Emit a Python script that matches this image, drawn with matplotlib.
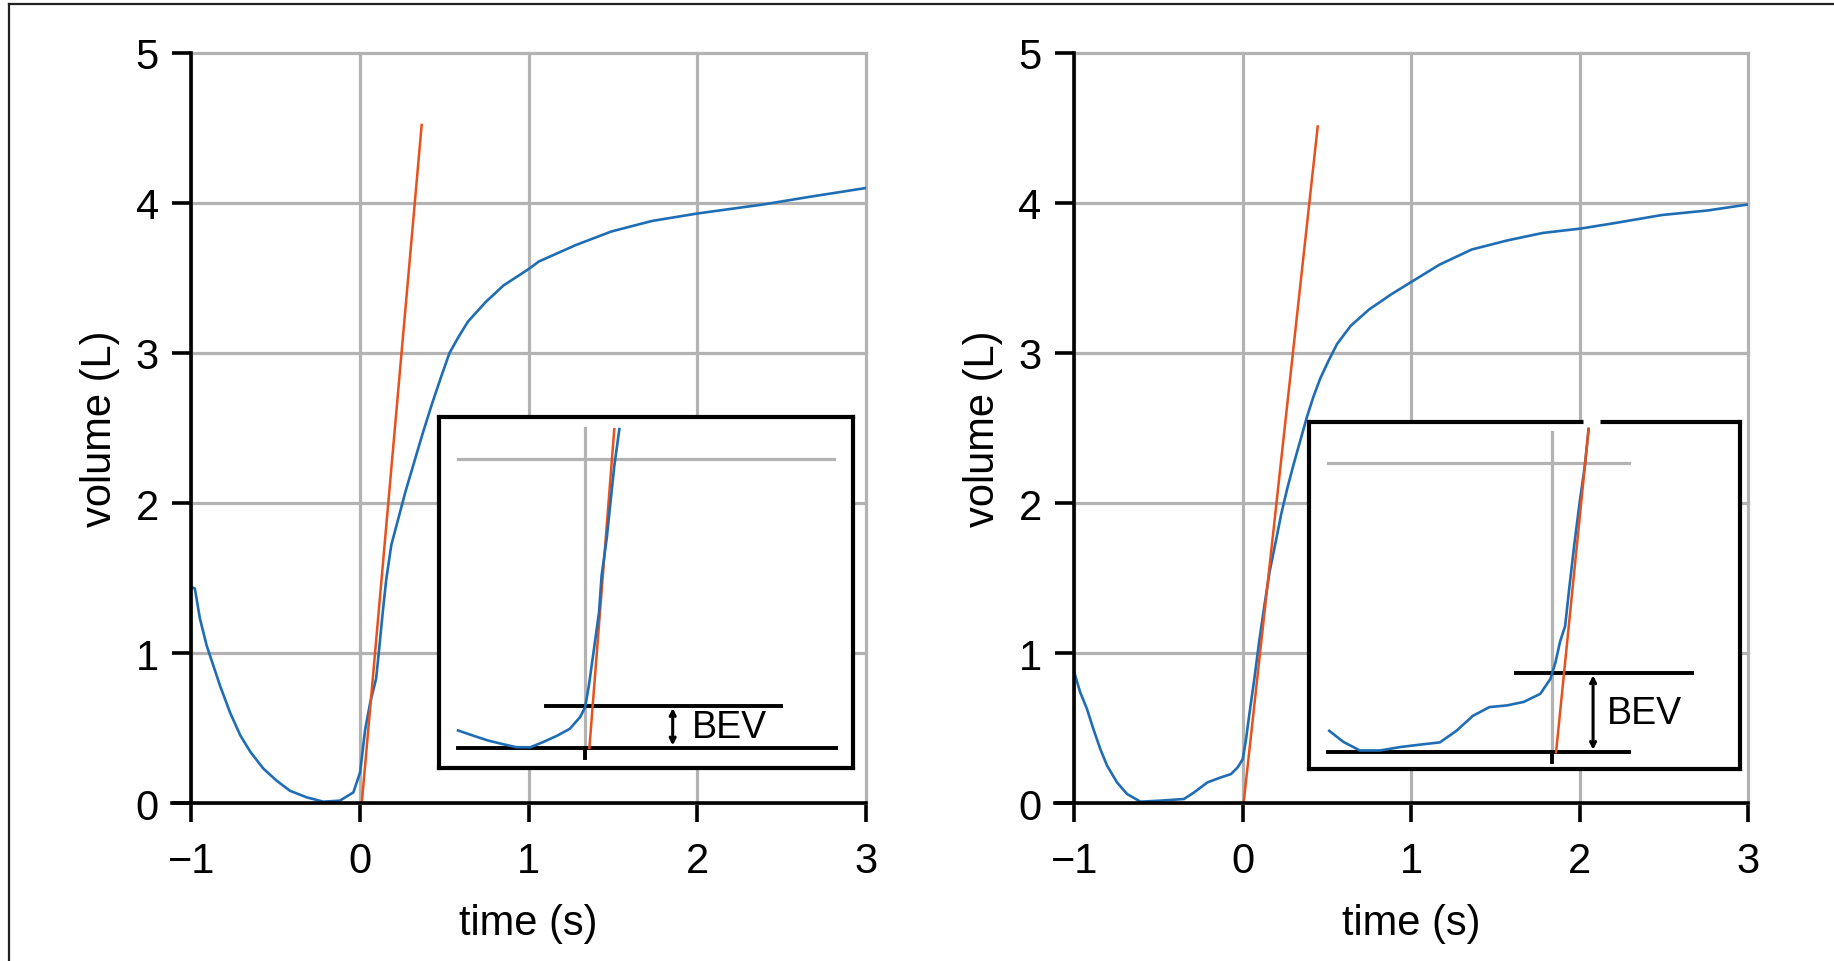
import numpy as np
import matplotlib.pyplot as plt
from matplotlib.lines import Line2D

plt.rcParams['font.family'] = ['Liberation Sans', 'DejaVu Sans']

# main traces (time in s, volume in L)
t_left = [-1.0, -0.98, -0.95, -0.91, -0.87, -0.83, -0.77, -0.71, -0.65, -0.574, -0.495,
          -0.416, -0.317, -0.218, -0.12, -0.04, 0.0, 0.03, 0.06, 0.095, 0.115, 0.135,
          0.155, 0.185, 0.237, 0.27, 0.32, 0.37, 0.426, 0.48, 0.53, 0.585, 0.64, 0.745,
          0.85, 1.0, 1.06, 1.28, 1.49, 1.73, 2.0, 2.39, 2.66, 3.0]
v_left = [1.44, 1.43, 1.23, 1.05, 0.915, 0.78, 0.60, 0.45, 0.34, 0.23, 0.149,
          0.082, 0.038, 0.009, 0.016, 0.071, 0.205, 0.49, 0.67, 0.83, 1.05, 1.28,
          1.49, 1.72, 1.94, 2.08, 2.27, 2.46, 2.66, 2.84, 3.0, 3.11, 3.21, 3.34,
          3.45, 3.56, 3.61, 3.72, 3.81, 3.88, 3.93, 3.99, 4.04, 4.10]
bev_left_t = [0.01, 0.365]
bev_left_v = [0.0, 4.52]

t_right = [-1.0, -0.966, -0.926, -0.886, -0.846, -0.806, -0.747, -0.687, -0.607, -0.488,
           -0.349, -0.289, -0.209, -0.13, -0.07, -0.03, 0.0, 0.02, 0.04, 0.069, 0.099,
           0.129, 0.159, 0.199, 0.229, 0.265, 0.30, 0.34, 0.38, 0.42, 0.46, 0.51, 0.56,
           0.64, 0.75, 0.88, 1.01, 1.17, 1.36, 1.57, 1.78, 2.01, 2.23, 2.49, 2.76, 3.0]
v_right = [0.87, 0.74, 0.63, 0.49, 0.36, 0.25, 0.138, 0.06, 0.009, 0.016,
           0.027, 0.071, 0.138, 0.171, 0.193, 0.238, 0.293, 0.43, 0.60, 0.83, 1.09,
           1.32, 1.54, 1.76, 1.93, 2.10, 2.25, 2.41, 2.57, 2.71, 2.83, 2.95, 3.06,
           3.18, 3.29, 3.39, 3.48, 3.59, 3.69, 3.75, 3.80, 3.83, 3.87, 3.92, 3.95, 3.99]
bev_right_t = [0.005, 0.445]
bev_right_v = [0.0, 4.51]

# zoomed insets (time in ms, volume in mL)
in_left_t = [-100, -88, -77, -66, -54, -43, -33, -22, -12, -4, 0, 3, 7, 11, 13, 17, 20, 23, 27]
in_left_v = [30, 21, 13, 7, 1, 1, 10, 21, 33, 53, 70, 108, 171, 235, 298, 362, 425, 488, 552]
in_left_red_t = [3.4, 23]
in_left_red_v = [0, 552]
in_left_bev = 73

in_right_t = [-175, -164, -151, -135, -119, -104, -88, -75, -62, -49, -35, -22, -9, -1,
              3, 6.5, 10.5, 14, 18, 22, 26, 29]
in_right_v = [37, 18, 3, 3, 9, 13, 17, 37, 63, 78, 81, 87, 101, 127,
              156, 191, 218, 288, 364, 433, 495, 559]
in_right_red_t = [3.4, 29]
in_right_red_v = [0, 559]
in_right_bev = 137

BLUE = '#1f6db5'
RED = '#e8501c'
GRAY = '#b3b3b3'
FS = 30

fig = plt.figure(figsize=(18.34, 9.62), dpi=100)

# frame of the original figure (top and left edges only)
fig.add_artist(Line2D([0.005, 0.005], [0, 0.995], color='#222222', lw=1.6))
fig.add_artist(Line2D([0.005, 1], [0.995, 0.995], color='#222222', lw=1.6))


def main_axes(rect, t, v, rt, rv):
    ax = fig.add_axes(rect)
    ax.plot(t, v, color=BLUE, lw=1.9, zorder=3)
    ax.plot(rt, rv, color=RED, lw=1.8, zorder=4)
    ax.set_xlim(-1, 3)
    ax.set_ylim(0, 5)
    ax.set_xticks([-1, 0, 1, 2, 3])
    ax.set_yticks([0, 1, 2, 3, 4, 5])
    ax.grid(True, color=GRAY, lw=2.3)
    for gl in ax.get_xgridlines() + ax.get_ygridlines():
        gl.set_clip_on(False)
    ax.set_axisbelow(True)
    for s in ['top', 'right']:
        ax.spines[s].set_visible(False)
    for s in ['left', 'bottom']:
        ax.spines[s].set_linewidth(2.6)
        ax.spines[s].set_zorder(5)
    ax.spines['bottom'].set_bounds(-1.113, 3)
    ax.tick_params(length=13.5, width=2.6, labelsize=FS, pad=10)
    ax.tick_params(axis='x', pad=14)
    ax.set_xlabel('time (s)', fontsize=FS, labelpad=16)
    ax.set_ylabel('volume (L)', fontsize=FS, labelpad=11)
    return ax


def inset_axes(rect, xlim, ylim, t, v, rt, rv, bev, lines, red_on_top):
    ia = fig.add_axes(rect, facecolor='white')
    ia.set_xlim(*xlim)
    ia.set_ylim(*ylim)
    ia.set_xticks([])
    ia.set_yticks([])
    for s in ia.spines.values():
        s.set_linewidth(3)
    gh0, gh1, lo0, lo1, up0, up1, tx = lines
    ia.plot([gh0, gh1], [500, 500], color=GRAY, lw=2.3, zorder=1)
    ia.plot([0, 0], [0, 554], color=GRAY, lw=2.3, zorder=1)
    ia.plot([lo0, lo1], [0, 0], color='black', lw=2.8, zorder=2)
    ia.plot([0, 0], [0, -17], color='black', lw=2.8, zorder=2)
    ia.plot([up0, up1], [bev, bev], color='black', lw=2.8, zorder=2)
    ia.plot(t, v, color=BLUE, lw=1.9, zorder=4 if not red_on_top else 3)
    ia.plot(rt, rv, color=RED, lw=1.8, zorder=4 if red_on_top else 3)
    ia.annotate('', xy=(tx, bev - 4), xytext=(tx, 4),
                arrowprops=dict(arrowstyle='<->', color='black', lw=2.2,
                                mutation_scale=9, shrinkA=0, shrinkB=0))
    ia.text(tx + (15 if bev < 100 else 11), bev / 2, 'BEV', fontsize=27,
            ha='left', va='center')
    return ia


ax1 = main_axes([0.1044, 0.1642, 0.3678, 0.7797], t_left, v_left, bev_left_t, bev_left_v)
ax2 = main_axes([0.5858, 0.1642, 0.3673, 0.7797], t_right, v_right, bev_right_t, bev_right_v)

ia1 = inset_axes([0.2394, 0.2006, 0.2257, 0.3649], (-115, 211), (-35, 573),
                 in_left_t, in_left_v, in_left_red_t, in_left_red_v, in_left_bev,
                 (-100, 196, -100, 198, -31, 154, 69), red_on_top=False)
ia2 = inset_axes([0.7137, 0.1996, 0.2350, 0.3607], (-191, 148), (-29, 571),
                 in_right_t, in_right_v, in_right_red_t, in_right_red_v, in_right_bev,
                 (-176, 61, -176, 61, -28, 110, 32.5), red_on_top=True)
# small break in the top edge of the right inset
ia2.plot([24.6, 38], [571, 571], color='white', lw=5, zorder=10, clip_on=False,
         solid_capstyle='butt')

fig.savefig('out.png', dpi=100)
